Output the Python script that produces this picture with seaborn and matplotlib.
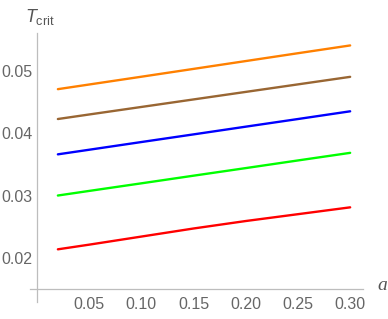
import numpy as np
import pandas as pd
import matplotlib
matplotlib.use("Agg")
import matplotlib.pyplot as plt
from matplotlib.ticker import FixedLocator, FixedFormatter
import seaborn as sns

# ---- data ----
a_vals = [0.02, 0.05, 0.10, 0.15, 0.20, 0.25, 0.30]
orange_T = [0.0471, 0.04785, 0.0491, 0.05036, 0.05162, 0.05288, 0.05413]
brown_T = [0.0423, 0.04303, 0.04424, 0.04545, 0.04666, 0.04787, 0.04908]
blue_T = [0.03662, 0.03736, 0.0386, 0.03983, 0.04107, 0.0423, 0.04354]
green_T = [0.0300, 0.03074, 0.03196, 0.03319, 0.03441, 0.03564, 0.03686]
red_T = [0.02135, 0.0221, 0.0234, 0.0247, 0.0259, 0.0270, 0.0281]

series_names = ["orange", "brown", "blue", "green", "red"]
series_vals = [orange_T, brown_T, blue_T, green_T, red_T]
colors = ["#FF8000", "#996633", "#0000FF", "#00FF00", "#FF0000"]

x_ticks = [0.05, 0.10, 0.15, 0.20, 0.25, 0.30]
x_ticklabels = ["0.05", "0.10", "0.15", "0.20", "0.25", "0.30"]
y_ticks = [0.02, 0.03, 0.04, 0.05]
y_ticklabels = ["0.02", "0.03", "0.04", "0.05"]

rows = []
for name, vals in zip(series_names, series_vals):
    for a, t in zip(a_vals, vals):
        rows.append({"a": a, "T": t, "s": name})
df = pd.DataFrame(rows)

sns.set_style("white")
plt.rcParams["font.family"] = ["Liberation Sans", "DejaVu Sans"]
plt.rcParams["mathtext.fontset"] = "custom"
plt.rcParams["mathtext.it"] = "Liberation Sans:italic"
plt.rcParams["mathtext.rm"] = "Liberation Sans"

fig = plt.figure(figsize=(3.88, 3.19), dpi=100)
ax = fig.add_axes([30 / 388, 17 / 319, 333 / 388, 269 / 319])

sns.lineplot(data=df, x="a", y="T", hue="s", palette=dict(zip(series_names, colors)),
             linewidth=1.7, legend=False, ax=ax, estimator=None, sort=True)

ax.set_xlim(-0.0067, 0.3123)
ax.set_ylim(0.01288, 0.05613)

axis_gray = "#bdbdbd"
for side in ["top", "right"]:
    ax.spines[side].set_visible(False)
ax.spines["left"].set_position(("data", 0.0))
ax.spines["bottom"].set_position(("data", 0.015))
for side in ["left", "bottom"]:
    ax.spines[side].set_color(axis_gray)
    ax.spines[side].set_linewidth(0.9)

ax.xaxis.set_major_locator(FixedLocator(x_ticks))
ax.xaxis.set_major_formatter(FixedFormatter(x_ticklabels))
ax.xaxis.set_minor_locator(FixedLocator(np.arange(0.01, 0.3101, 0.01)))
ax.yaxis.set_major_locator(FixedLocator(y_ticks))
ax.yaxis.set_major_formatter(FixedFormatter(y_ticklabels))
ax.yaxis.set_minor_locator(FixedLocator(np.arange(0.014, 0.0561, 0.002)))

ax.tick_params(which="major", direction="in", length=3.5, width=0.8, color=axis_gray,
               labelsize=11.5, labelcolor="#666666")
ax.tick_params(which="minor", direction="in", length=1.8, width=0.6, color=axis_gray)
ax.tick_params(axis="x", which="major", pad=6)
ax.tick_params(axis="y", which="major", pad=3.5)
ax.set_xlabel("")
ax.set_ylabel("")
ax.grid(False)

fig.text(25 / 388, 1 - 17 / 319, r"$T_{\mathrm{crit}}$", fontsize=13, color="#555555",
         ha="left", va="center")
fig.text(377 / 388, 1 - 285 / 319, "a", fontsize=14, color="#555555", style="italic",
         family=["Liberation Serif", "DejaVu Serif"], ha="left", va="center")

fig.savefig("out.png", dpi=100)
